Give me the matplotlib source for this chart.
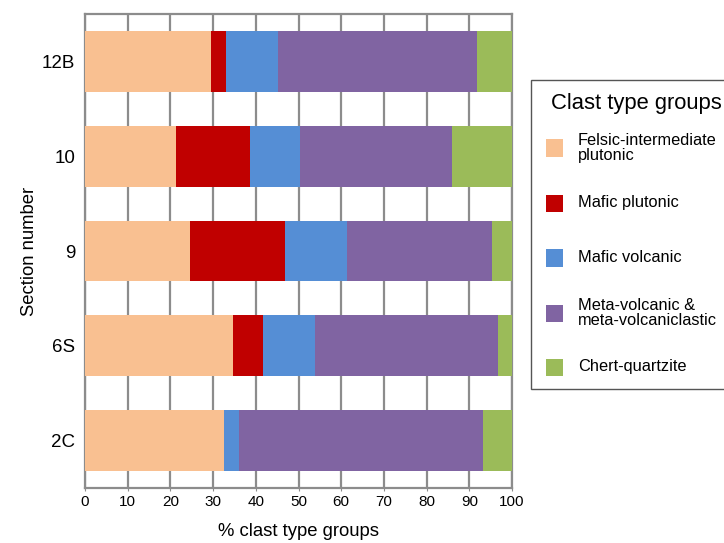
import numpy as np
import matplotlib
matplotlib.use("Agg")
import matplotlib.pyplot as plt
from matplotlib.patches import Rectangle

plt.rcParams['font.family'] = ['Liberation Sans', 'DejaVu Sans']

# sections (bottom to top)
sections = ["2C", "6S", "9", "10", "12B"]
groups = ["Felsic-intermediate\nplutonic", "Mafic plutonic", "Mafic volcanic",
          "Meta-volcanic &\nmeta-volcaniclastic", "Chert-quartzite"]
colors = ["#F9C091", "#C00000", "#558ED5", "#8064A2", "#9BBB59"]

# percentages per group, in the order of sections
felsic = [32.6, 34.7, 24.5, 21.3, 29.4]
mafic_plut = [0.0, 7.1, 22.3, 17.3, 3.6]
mafic_volc = [3.4, 12.1, 14.5, 11.8, 12.3]
meta_volc = [57.1, 42.9, 33.9, 35.5, 46.6]
chert = [6.9, 3.2, 4.8, 14.1, 8.1]
series = [felsic, mafic_plut, mafic_volc, meta_volc, chert]

W, H = 724, 543
fig = plt.figure(figsize=(W / 100, H / 100), dpi=100)
ax = fig.add_axes([85 / W, 1 - 488 / H, 427 / W, 474 / H])

y = np.arange(len(sections))
left = np.zeros(len(sections))
for vals, c in zip(series, colors):
    ax.barh(y, vals, left=left, height=0.64, color=c, zorder=3)
    left += np.array(vals)

ax.set_xlim(0, 100)
ax.set_ylim(-0.5, len(sections) - 0.5)
ax.set_xticks(np.arange(0, 101, 10))
ax.set_yticks(y)
ax.set_yticklabels(sections, fontsize=13.5)
ax.tick_params(axis='x', labelsize=11, length=2, color='#8c8c8c', pad=3)
ax.tick_params(axis='y', length=0, pad=7)
ax.grid(axis='x', color='#8c8c8c', linewidth=1.6, zorder=0)
for s in ax.spines.values():
    s.set_color('#8c8c8c')
    s.set_linewidth(1.6)

ax.set_xlabel("% clast type groups", fontsize=13.3, labelpad=10)
ax.set_ylabel("Section number", fontsize=13.3, labelpad=3)

# legend box drawn by hand so that entries are evenly spaced
def fx(px):
    return px / W

def fy(py):
    return 1 - py / H

fig.patches.append(Rectangle((fx(531), fy(389)), fx(260), (389 - 80) / H,
                             transform=fig.transFigure, facecolor='white',
                             edgecolor='#555555', linewidth=1.0, zorder=5))
fig.text(fx(551), fy(104), "Clast type groups", fontsize=15.8,
         va='center', ha='left', zorder=6)
row_y = [148, 203, 258, 313, 367]
for ry, c, lab in zip(row_y, colors, groups):
    fig.patches.append(Rectangle((fx(546), fy(ry + 8.5)), fx(17), 17 / H,
                                 transform=fig.transFigure, facecolor=c,
                                 edgecolor='none', zorder=6))
    fig.text(fx(578), fy(ry), lab, fontsize=11.8, va='center', ha='left',
             linespacing=1.05, zorder=6)

fig.savefig("out.png", dpi=100)
